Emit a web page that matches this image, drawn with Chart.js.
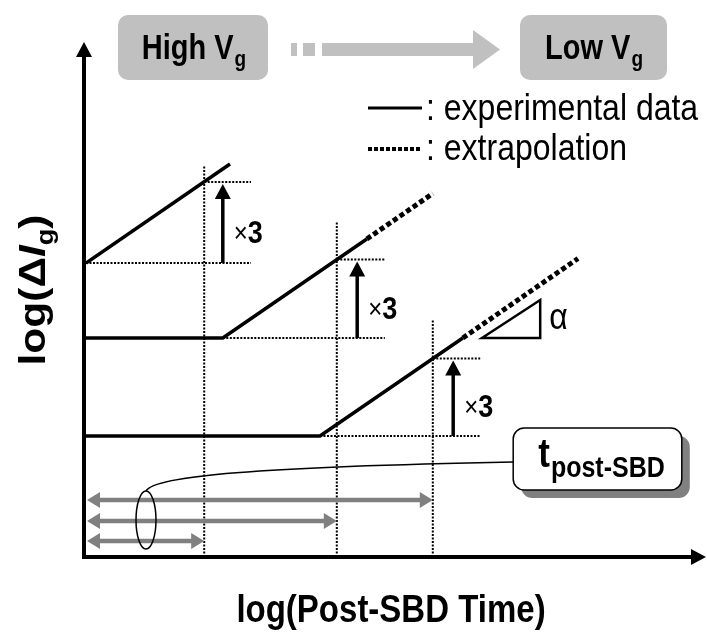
<!DOCTYPE html>
<html>
<head>
<meta charset="utf-8">
<script src="https://cdn.jsdelivr.net/npm/chart.js@4.4.1/dist/chart.umd.min.js"></script>
<style>
  html, body { margin: 0; padding: 0; background: #fff; }
  #wrap { width: 707px; height: 633px; }
</style>
</head>
<body>
<div id="wrap"><canvas id="chart" width="707" height="633"></canvas></div>
<script>
/* log(delta Ig) vs log(post-SBD time) schematic */

const FONT = "'Liberation Sans', Arial, sans-serif";
const TALL = 1.18;   // glyphs are drawn a little taller than wide
const X_MAX = 10.3;
const Y_MAX = 10.34;

// curves in (log t, log dIg) units: measured part and extrapolated part
const highExp = [[0, 5.88], [2.4, 7.86]];
const midExp = [[0, 4.38], [2.28, 4.38], [4.68, 6.36]];
const midExtra = [[4.68, 6.36], [5.78, 7.27]];
const lowExp = [[0, 2.42], [3.9, 2.42], [6.28, 4.38]];
const lowExtra = [[6.28, 4.38], [8.2, 5.97]];

// per-Vg time where the current has grown x3, and the levels involved
const tPost = [1.97, 4.18, 5.78];
const guideTop = [7.84, 6.7, 4.74];
const levelStart = [5.88, 4.38, 2.42];
const levelEnd = [7.5, 5.95, 3.97];
const refFrom = [0, 2.28, 3.9];
const refTo = [2.75, 4.98, 6.57];
const factorX = [2.28, 4.52, 6.12];
const factorLabel = ['×3', '×3', '×3'];
const spanY = [0.32, 0.72, 1.14];

// slope marker and callout
const slopeTri = [[6.6, 4.38], [7.57, 4.38], [7.57, 5.14]];
const ringCenter = [1.0, 0.74];
const calloutBox = [7.12, 2.58, 9.93, 1.34];

const pts = arr => arr.map(p => ({ x: p[0], y: p[1] }));

function lineSet(data, opts) {
  return Object.assign({
    data: pts(data),
    showLine: true,
    borderColor: '#000',
    borderWidth: 3.5,
    pointRadius: 0,
    tension: 0,
    fill: false,
  }, opts);
}

const datasets = [];

// thin dotted guides
tPost.forEach((t, i) => {
  const guide = { borderWidth: 2, borderDash: [2, 1.5] };
  datasets.push(lineSet([[t, 0], [t, guideTop[i]]], guide));
  datasets.push(lineSet([[t, levelEnd[i]], [refTo[i], levelEnd[i]]], guide));
  datasets.push(lineSet([[refFrom[i], levelStart[i]], [refTo[i], levelStart[i]]], guide));
});

// extrapolation (thick dots) then measured data on top
const dots = { borderWidth: 5, borderDash: [5, 3] };
datasets.push(lineSet(midExtra, dots));
datasets.push(lineSet(lowExtra, dots));
datasets.push(lineSet(highExp, {}));
datasets.push(lineSet(midExp, {}));
datasets.push(lineSet(lowExp, {}));

function arrowHead(ctx, x, y, ang, len, half) {
  ctx.save();
  ctx.translate(x, y);
  ctx.rotate(ang);
  ctx.beginPath();
  ctx.moveTo(0, 0);
  ctx.lineTo(-len, -half);
  ctx.lineTo(-len, half);
  ctx.closePath();
  ctx.fill();
  ctx.restore();
}

function roundRect(ctx, x, y, w, h, r) {
  ctx.beginPath();
  ctx.moveTo(x + r, y);
  ctx.arcTo(x + w, y, x + w, y + h, r);
  ctx.arcTo(x + w, y + h, x, y + h, r);
  ctx.arcTo(x, y + h, x, y, r);
  ctx.arcTo(x, y, x + w, y, r);
  ctx.closePath();
}

// stretched text, (x, y) is the anchor given by align/baseline
function text(ctx, str, x, y, font, align, baseline) {
  ctx.save();
  ctx.font = font;
  ctx.textAlign = align || 'left';
  ctx.textBaseline = baseline || 'alphabetic';
  ctx.translate(x, y);
  ctx.scale(1, TALL);
  ctx.fillText(str, 0, 0);
  ctx.restore();
}

// text with a subscript, centred on cx
function subText(ctx, main, sub, cx, base, size, subSize, drop) {
  ctx.font = `bold ${size}px ${FONT}`;
  const w1 = ctx.measureText(main).width;
  ctx.font = `bold ${subSize}px ${FONT}`;
  const w2 = ctx.measureText(sub).width;
  const x = cx - (w1 + w2 + 1) / 2;
  text(ctx, main, x, base, `bold ${size}px ${FONT}`);
  text(ctx, sub, x + w1 + 1, base + drop, `bold ${subSize}px ${FONT}`);
}

const diagram = {
  id: 'diagram',
  afterDatasetsDraw(chart) {
    const { ctx, chartArea: area } = chart;
    const sx = v => chart.scales.x.getPixelForValue(v);
    const sy = v => chart.scales.y.getPixelForValue(v);
    ctx.save();
    ctx.fillStyle = '#000';
    ctx.strokeStyle = '#000';

    // axes with arrow heads
    const ox = area.left - 2, oy = area.bottom;
    ctx.lineWidth = 4;
    ctx.beginPath();
    ctx.moveTo(ox, oy + 2);
    ctx.lineTo(ox, area.top + 14);
    ctx.moveTo(ox - 2, oy);
    ctx.lineTo(area.right - 10, oy);
    ctx.stroke();
    arrowHead(ctx, ox, area.top + 2, -Math.PI / 2, 15, 8);
    arrowHead(ctx, area.right + 2, oy, 0, 15, 8);

    // x3 growth arrows
    factorX.forEach((fx, i) => {
      const x = sx(fx), y0 = sy(levelStart[i]), y1 = sy(levelEnd[i]);
      ctx.lineWidth = 3.5;
      ctx.beginPath();
      ctx.moveTo(x, y0);
      ctx.lineTo(x, y1 + 12);
      ctx.stroke();
      arrowHead(ctx, x, y1 + 2, -Math.PI / 2, 15, 8);
      const ly = (y0 + y1) / 2 + 20;
      const mark = factorLabel[i][0];
      ctx.font = `24px ${FONT}`;
      const w = ctx.measureText(mark).width;
      text(ctx, mark, x + 11, ly - 1, `24px ${FONT}`);
      text(ctx, factorLabel[i].slice(1), x + 11 + w, ly, `bold 27px ${FONT}`);
    });

    // slope triangle and alpha
    ctx.lineWidth = 2.5;
    ctx.beginPath();
    slopeTri.forEach((p, k) => k ? ctx.lineTo(sx(p[0]), sy(p[1])) : ctx.moveTo(sx(p[0]), sy(p[1])));
    ctx.closePath();
    ctx.stroke();
    text(ctx, 'α', sx(slopeTri[1][0]) + 9, sy((slopeTri[1][1] + slopeTri[2][1]) / 2) + 10, `32px ${FONT}`);

    // grey post-SBD time spans
    ctx.strokeStyle = '#808080';
    ctx.fillStyle = '#808080';
    ctx.lineWidth = 4.5;
    spanY.forEach((yv, i) => {
      const y = sy(yv), x0 = area.left + 1, x1 = sx(tPost[i]);
      ctx.beginPath();
      ctx.moveTo(x0 + 10, y);
      ctx.lineTo(x1 - 10, y);
      ctx.stroke();
      arrowHead(ctx, x0, y, Math.PI, 13, 8);
      arrowHead(ctx, x1, y, 0, 13, 8);
    });

    // ring around the spans and leader to the callout
    const cx = sx(ringCenter[0]), cy = sy(ringCenter[1]);
    ctx.strokeStyle = '#000';
    ctx.lineWidth = 1.5;
    ctx.beginPath();
    ctx.ellipse(cx, cy, 10, 29, 0, 0, Math.PI * 2);
    ctx.stroke();

    const bx0 = sx(calloutBox[0]), by0 = sy(calloutBox[1]);
    const bx1 = sx(calloutBox[2]), by1 = sy(calloutBox[3]);
    ctx.beginPath();
    ctx.moveTo(cx, cy - 29);
    ctx.bezierCurveTo(cx + 8, cy - 44, cx + 110, cy - 53, bx0, by0 + 34);
    ctx.stroke();

    // callout box with drop shadow
    ctx.fillStyle = '#808080';
    roundRect(ctx, bx0 + 8, by0 + 8, bx1 - bx0, by1 - by0, 11);
    ctx.fill();
    ctx.fillStyle = '#fff';
    roundRect(ctx, bx0, by0, bx1 - bx0, by1 - by0, 11);
    ctx.fill();
    ctx.lineWidth = 1.5;
    ctx.stroke();
    ctx.fillStyle = '#000';
    subText(ctx, 't', 'post-SBD', (bx0 + bx1) / 2 + 4, by0 + 39, 35, 25, 10);

    ctx.restore();
  },
  afterDraw(chart) {
    const { ctx } = chart;
    ctx.save();

    // High Vg -> Low Vg banner
    ctx.fillStyle = '#c0c0c0';
    roundRect(ctx, 118, 15, 150, 65, 10);
    ctx.fill();
    roundRect(ctx, 520, 15, 147, 65, 10);
    ctx.fill();
    ctx.fillRect(291, 43, 6, 13);
    ctx.fillRect(303, 43, 12, 13);
    ctx.beginPath();
    ctx.moveTo(322, 43);
    ctx.lineTo(473, 43);
    ctx.lineTo(473, 30);
    ctx.lineTo(500, 49.5);
    ctx.lineTo(473, 69);
    ctx.lineTo(473, 56);
    ctx.lineTo(322, 56);
    ctx.closePath();
    ctx.fill();
    ctx.fillStyle = '#000';
    subText(ctx, 'High V', 'g', 194, 59, 29, 19, 7);
    subText(ctx, 'Low V', 'g', 594, 59, 29, 19, 7);

    // legend
    ctx.lineWidth = 3;
    ctx.strokeStyle = '#000';
    ctx.beginPath();
    ctx.moveTo(368, 108);
    ctx.lineTo(422, 108);
    ctx.stroke();
    ctx.lineWidth = 4;
    ctx.setLineDash([4, 2]);
    ctx.beginPath();
    ctx.moveTo(368, 149);
    ctx.lineTo(422, 149);
    ctx.stroke();
    ctx.setLineDash([]);
    text(ctx, ': experimental data', 426, 120, `32px ${FONT}`);
    text(ctx, ': extrapolation', 426, 160, `32px ${FONT}`);

    // axis titles
    text(ctx, 'log(Post-SBD Time)', 391, 622, `bold 33px ${FONT}`, 'center');

    ctx.translate(45, 290);
    ctx.rotate(-Math.PI / 2);
    ctx.scale(TALL, 1);
    const parts = [
      ['log(Δ', `bold 36px ${FONT}`, 0],
      ['I', `italic bold 36px ${FONT}`, 0],
      ['g', `bold 23px ${FONT}`, 8],
      [')', `bold 36px ${FONT}`, 0],
    ];
    let total = 0;
    parts.forEach(p => { ctx.font = p[1]; total += ctx.measureText(p[0]).width; });
    let x = -total / 2;
    ctx.textAlign = 'left';
    parts.forEach(p => {
      ctx.font = p[1];
      ctx.fillText(p[0], x, p[2]);
      x += ctx.measureText(p[0]).width;
    });
    ctx.restore();
  }
};

new Chart(document.getElementById('chart'), {
  type: 'scatter',
  data: { datasets },
  options: {
    responsive: false,
    animation: false,
    layout: { padding: { left: 86, right: 3, top: 40, bottom: 76 } },
    plugins: { legend: { display: false }, tooltip: { enabled: false } },
    scales: {
      x: { type: 'linear', min: 0, max: X_MAX, display: false },
      y: { type: 'linear', min: 0, max: Y_MAX, display: false },
    },
  },
  plugins: [diagram],
});
</script>
</body>
</html>
